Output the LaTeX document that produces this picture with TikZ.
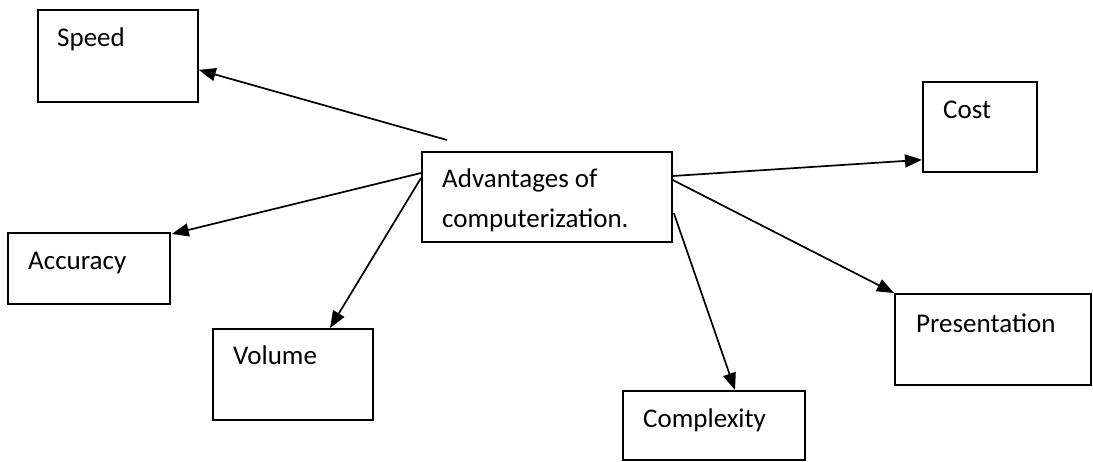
\documentclass[tikz,border=0pt]{standalone}
\usepackage{fontspec}
\setmainfont{Carlito}
\usetikzlibrary{arrows.meta}
\tikzset{
  box/.style={draw, line width=1.8pt, anchor=north west, inner sep=0pt},
  lbl/.style={anchor=base west, inner sep=0pt, font=\fontsize{27}{40}\selectfont},
  arr/.style={line width=1.7pt, -{Triangle[length=17pt,width=13pt]}},
}
\begin{document}
\begin{tikzpicture}[x=1pt,y=-1pt]
  \useasboundingbox (0,0) rectangle (1093,461);

  % boxes
  \node[box, minimum width=160pt, minimum height=92pt] (speed) at (37,9) {};
  \node[box, minimum width=250pt, minimum height=90pt] (adv)   at (421,151) {};
  \node[box, minimum width=114pt, minimum height=90pt] (cost)  at (922,81) {};
  \node[box, minimum width=162pt, minimum height=71pt] (acc)   at (7,232) {};
  \node[box, minimum width=160pt, minimum height=91pt] (vol)   at (212,328) {};
  \node[box, minimum width=196pt, minimum height=91pt] (pres)  at (894,293) {};
  \node[box, minimum width=182pt, minimum height=69pt] (comp)  at (622,390) {};

  % labels
  \node[lbl] (tspeed) at (57,46)  {Speed};
  \node[lbl] (tadv1)  at (442,187) {Advantages of};
  \node[lbl] (tadv2)  at (442,227) {computerization.};
  \node[lbl] (tcost)  at (943,118) {Cost};
  \node[lbl] (tacc)   at (28,269) {Accuracy};
  \node[lbl] (tvol)   at (233,364) {Volume};
  \node[lbl] (tpres)  at (916,332) {Presentation};
  \node[lbl] (tcomp)  at (643,427) {Complexity};

  % connectors
  \draw[arr] ([shift={(26,-11)}]adv.north west) -- ([shift={(0,14)}]speed.east);
  \draw[arr] ([shift={(0,22)}]adv.north west)   -- ([shift={(1,2)}]acc.north east);
  \draw[arr] ([shift={(0,27)}]adv.north west)   -- ([shift={(118,0)}]vol.north west);
  \draw[arr] ([shift={(0,25)}]adv.north east)   -- ([shift={(0,-13)}]cost.south west);
  \draw[arr] ([shift={(0,29)}]adv.north east)   -- (pres.north west);
  \draw[arr] ([shift={(1,62)}]adv.north east)   -- ([shift={(113,0)}]comp.north west);
\end{tikzpicture}
\end{document}
